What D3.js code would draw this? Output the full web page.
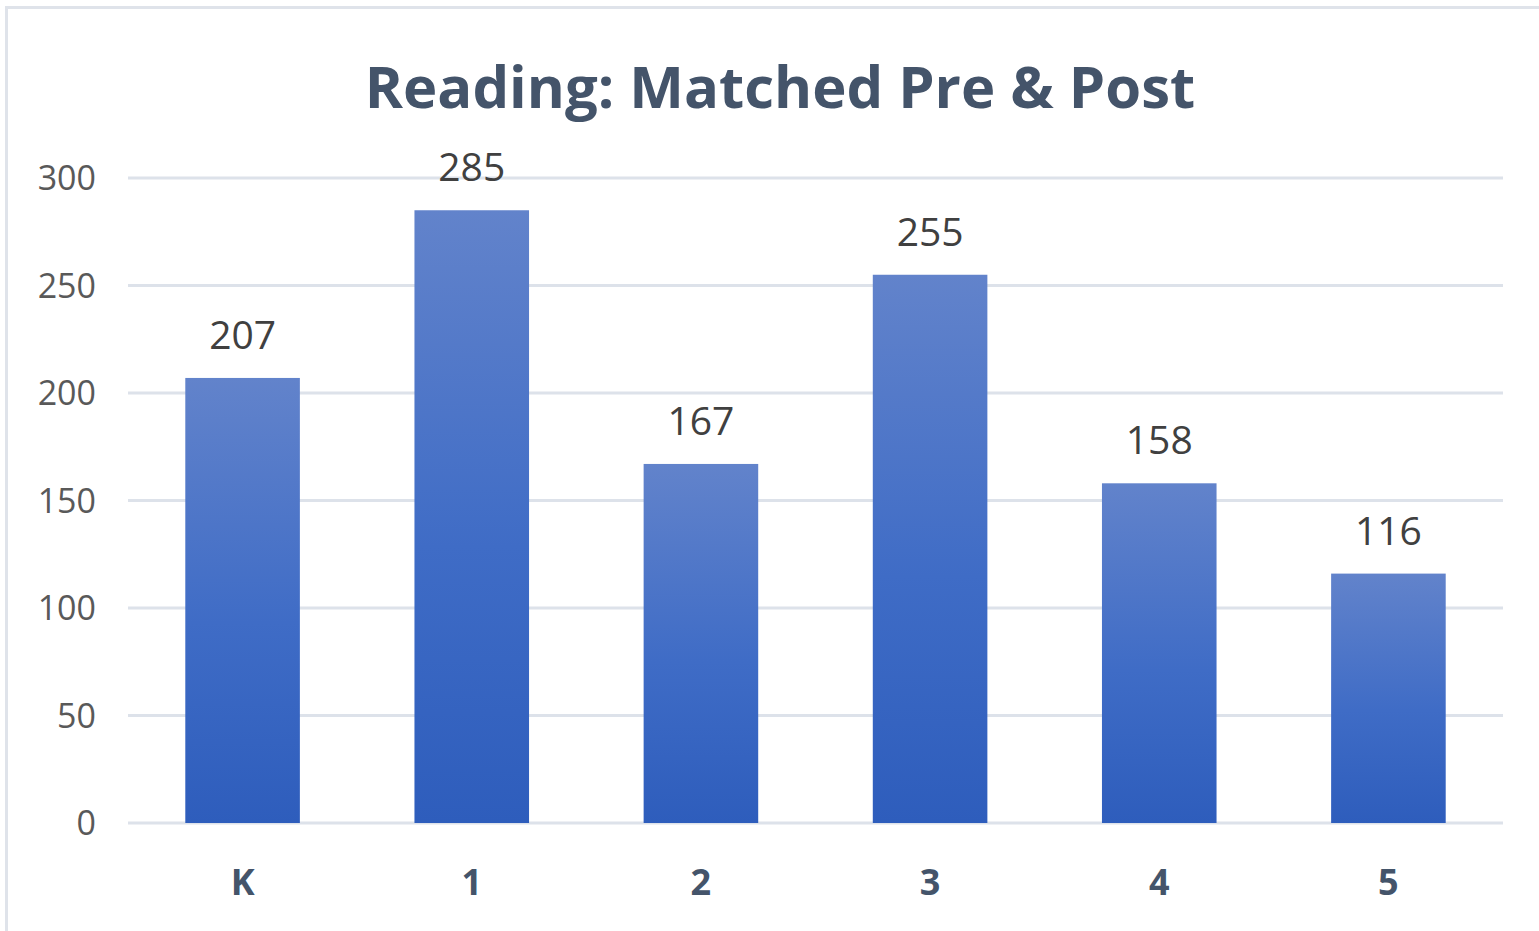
<!DOCTYPE html>
<html lang="en">
<head>
    <meta charset="UTF-8">
    <title>Reading: Matched Pre & Post</title>
    <script src="https://cdn.jsdelivr.net/npm/d3@7"></script>
    <style>
        html, body {
            margin: 0;
            padding: 0;
            background: #fff;
        }
        svg {
            display: block;
            font-family: "Open Sans", "Noto Sans", sans-serif;
        }
    </style>
</head>
<body>
    <svg id="chart"></svg>
    <script>
        // chart data
        const grades = ['K', '1', '2', '3', '4', '5'];
        const students = [207, 285, 167, 255, 158, 116];
        const yTicks = [0, 50, 100, 150, 200, 250, 300];

        const width = 1539, height = 931;
        const margin = { top: 178, right: 36, bottom: 108, left: 128 };

        const svg = d3.select('#chart')
            .attr('width', width)
            .attr('height', height);

        // bar gradient, lighter at the top
        const grad = svg.append('defs').append('linearGradient')
            .attr('id', 'barGrad')
            .attr('x1', 0).attr('y1', 0)
            .attr('x2', 0).attr('y2', 1);
        grad.append('stop').attr('offset', '0%').attr('stop-color', '#6283cb');
        grad.append('stop').attr('offset', '55%').attr('stop-color', '#3f6cc6');
        grad.append('stop').attr('offset', '100%').attr('stop-color', '#2e5dbc');

        // outer chart border (top and left visible)
        svg.append('rect')
            .attr('x', 6.5).attr('y', 7.5)
            .attr('width', width + 20).attr('height', height + 20)
            .attr('fill', 'none')
            .attr('stroke', '#dfe3ea')
            .attr('stroke-width', 3);

        const x = d3.scaleBand()
            .domain(grades)
            .range([margin.left, width - margin.right])
            .paddingInner(0.5)
            .paddingOuter(0.25);

        const y = d3.scaleLinear()
            .domain([0, 300])
            .range([height - margin.bottom, margin.top]);

        // gridlines
        svg.append('g')
            .selectAll('line')
            .data(yTicks)
            .join('line')
            .attr('x1', margin.left)
            .attr('x2', width - margin.right)
            .attr('y1', d => y(d))
            .attr('y2', d => y(d))
            .attr('stroke', '#dde2ea')
            .attr('stroke-width', 3);

        // y axis labels
        const yAxis = svg.append('g')
            .attr('transform', `translate(${margin.left - 32},0)`)
            .call(d3.axisLeft(y).tickValues(yTicks).tickSize(0).tickPadding(0));
        yAxis.select('.domain').remove();
        yAxis.selectAll('text')
            .attr('fill', '#595959')
            .style('font-size', '34px')
            .style('font-family', '"Open Sans", sans-serif')
            .attr('dy', '0.35em');

        // bars
        svg.append('g')
            .selectAll('rect')
            .data(students)
            .join('rect')
            .attr('x', (d, i) => x(grades[i]))
            .attr('y', d => y(d))
            .attr('width', x.bandwidth())
            .attr('height', d => y(0) - y(d))
            .attr('fill', 'url(#barGrad)');

        // value labels
        svg.append('g')
            .selectAll('text')
            .data(students)
            .join('text')
            .attr('x', (d, i) => x(grades[i]) + x.bandwidth() / 2)
            .attr('y', d => y(d) - 29)
            .attr('text-anchor', 'middle')
            .attr('fill', '#404040')
            .style('font-size', '39px')
            .text(d => d);

        // x axis labels
        const xAxis = svg.append('g')
            .attr('transform', `translate(0,${height - margin.bottom})`)
            .call(d3.axisBottom(x).tickSize(0).tickPadding(46));
        xAxis.select('.domain').remove();
        xAxis.selectAll('text')
            .attr('fill', '#44546a')
            .style('font-size', '36px')
            .style('font-weight', 'bold')
            .style('font-family', '"Open Sans", sans-serif');

        // title
        svg.append('text')
            .attr('x', 780)
            .attr('y', 108)
            .attr('text-anchor', 'middle')
            .attr('fill', '#44546a')
            .style('font-size', '58px')
            .style('font-weight', 'bold')
            .text('Reading: Matched Pre & Post');
    </script>
</body>
</html>
